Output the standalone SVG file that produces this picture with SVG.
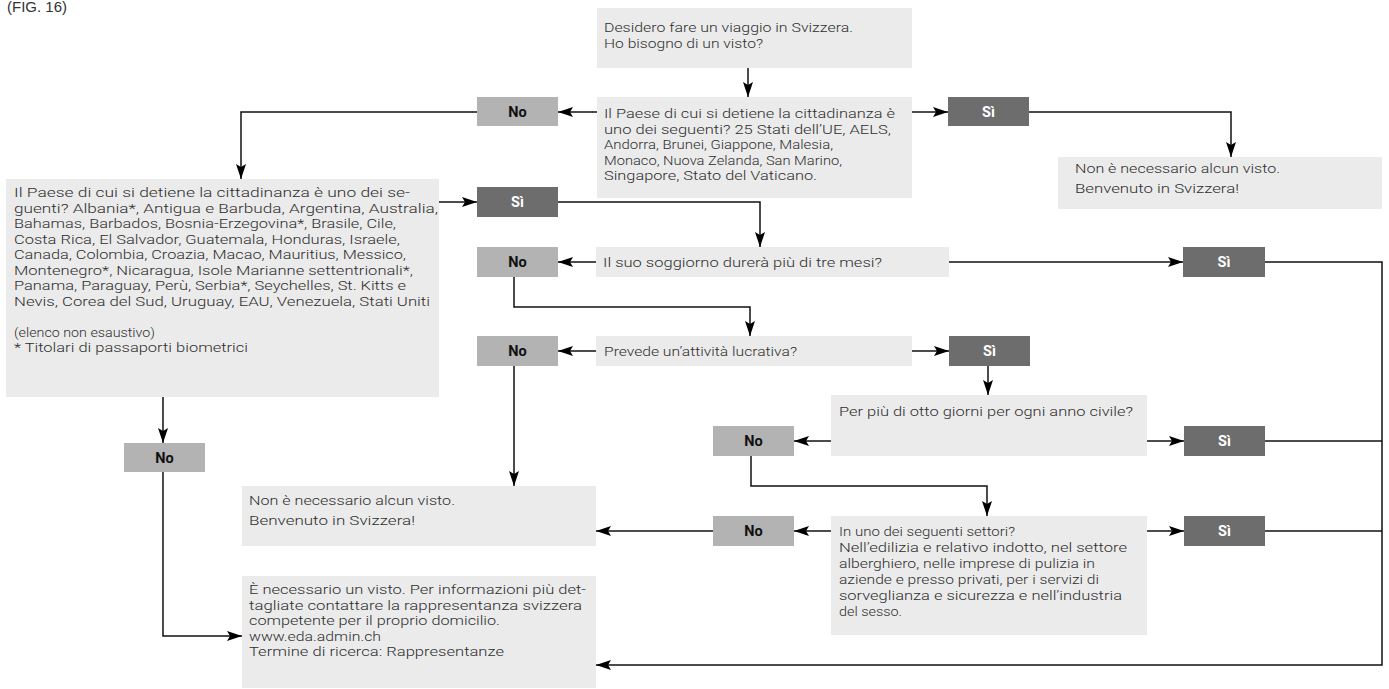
<svg xmlns="http://www.w3.org/2000/svg" width="1389" height="689" viewBox="0 0 1389 689">
<defs>
<marker id="ah" viewBox="0 0 15 10" refX="15" refY="5" markerWidth="15" markerHeight="10" markerUnits="userSpaceOnUse" orient="auto">
<path d="M0,0 L15,5 L0,10 L3,5 z" fill="#000"/>
</marker>
</defs>
<style>
.box{fill:#ebebeb}
.no{fill:#b3b3b3}
.si{fill:#6d6d6d}
.t{font-family:Roboto,"Liberation Sans",sans-serif;font-weight:300;font-size:13.5px;fill:#2e2e2e}
.ln{font-family:Roboto,"Liberation Sans",sans-serif;font-weight:700;font-size:14.5px;text-anchor:middle}
.lno{fill:#111}
.lsi{fill:#fff}
.c{fill:none;stroke:#111;stroke-width:1.5}
.ca{fill:none;stroke:#111;stroke-width:1.5;marker-end:url(#ah)}
.fig{font-family:"Liberation Sans",Arial,sans-serif;font-size:15px;fill:#333}
</style>
<text class="fig" x="7" y="12">(FIG. 16)</text>

<g id="start">
<rect class="box" x="597" y="8" width="315" height="60"/>
<text class="t" x="604" y="32" textLength="249" lengthAdjust="spacingAndGlyphs">Desidero fare un viaggio in Svizzera.</text>
<text class="t" x="604" y="48" textLength="159" lengthAdjust="spacingAndGlyphs">Ho bisogno di un visto?</text>
</g>
<g id="q1">
<rect class="box" x="597" y="97" width="315" height="101"/>
<text class="t" x="604" y="118" textLength="291" lengthAdjust="spacingAndGlyphs">Il Paese di cui si detiene la cittadinanza è</text>
<text class="t" x="604" y="133.5" textLength="287" lengthAdjust="spacingAndGlyphs">uno dei seguenti? 25 Stati dell’UE, AELS,</text>
<text class="t" x="604" y="149" textLength="229" lengthAdjust="spacingAndGlyphs">Andorra, Brunei, Giappone, Malesia,</text>
<text class="t" x="604" y="164.5" textLength="238" lengthAdjust="spacingAndGlyphs">Monaco, Nuova Zelanda, San Marino,</text>
<text class="t" x="604" y="180" textLength="213" lengthAdjust="spacingAndGlyphs">Singapore, Stato del Vaticano.</text>
</g>
<g id="no1">
<rect class="no" x="477" y="97" width="81" height="29"/>
<text class="ln lno" x="517.5" y="117">No</text>
</g>
<g id="si1">
<rect class="si" x="948" y="97" width="81" height="29"/>
<text class="ln lsi" x="988.5" y="117">Sì</text>
</g>
<g id="res1">
<rect class="box" x="1058" y="157" width="324" height="52"/>
<text class="t" x="1075" y="173" textLength="205" lengthAdjust="spacingAndGlyphs">Non è necessario alcun visto.</text>
<text class="t" x="1075" y="193" textLength="164" lengthAdjust="spacingAndGlyphs">Benvenuto in Svizzera!</text>
</g>
<g id="q2">
<rect class="box" x="6" y="179" width="433" height="218"/>
<text class="t" x="14" y="197" textLength="396" lengthAdjust="spacingAndGlyphs">Il Paese di cui si detiene la cittadinanza è uno dei se-</text>
<text class="t" x="14" y="212.5" textLength="424" lengthAdjust="spacingAndGlyphs">guenti? Albania*, Antigua e Barbuda, Argentina, Australia,</text>
<text class="t" x="14" y="228" textLength="382" lengthAdjust="spacingAndGlyphs">Bahamas, Barbados, Bosnia-Erzegovina*, Brasile, Cile,</text>
<text class="t" x="14" y="243.5" textLength="386" lengthAdjust="spacingAndGlyphs">Costa Rica, El Salvador, Guatemala, Honduras, Israele,</text>
<text class="t" x="14" y="259" textLength="392" lengthAdjust="spacingAndGlyphs">Canada, Colombia, Croazia, Macao, Mauritius, Messico,</text>
<text class="t" x="14" y="274.5" textLength="399" lengthAdjust="spacingAndGlyphs">Montenegro*, Nicaragua, Isole Marianne settentrionali*,</text>
<text class="t" x="14" y="290" textLength="392" lengthAdjust="spacingAndGlyphs">Panama, Paraguay, Perù, Serbia*, Seychelles, St. Kitts e</text>
<text class="t" x="14" y="305.5" textLength="416" lengthAdjust="spacingAndGlyphs">Nevis, Corea del Sud, Uruguay, EAU, Venezuela, Stati Uniti</text>
<text class="t" x="14" y="336.5" textLength="141" lengthAdjust="spacingAndGlyphs">(elenco non esaustivo)</text>
<text class="t" x="14" y="352" textLength="234" lengthAdjust="spacingAndGlyphs">* Titolari di passaporti biometrici</text>
</g>
<g id="si2">
<rect class="si" x="477" y="187" width="81" height="30"/>
<text class="ln lsi" x="517.5" y="207">Sì</text>
</g>
<g id="q3">
<rect class="box" x="596" y="247" width="353" height="30"/>
<text class="t" x="603" y="267" textLength="279" lengthAdjust="spacingAndGlyphs">Il suo soggiorno durerà più di tre mesi?</text>
</g>
<g id="no3">
<rect class="no" x="477" y="247" width="81" height="30"/>
<text class="ln lno" x="517.5" y="267">No</text>
</g>
<g id="si3">
<rect class="si" x="1183" y="247" width="82" height="30"/>
<text class="ln lsi" x="1224" y="267">Sì</text>
</g>
<g id="q4">
<rect class="box" x="596" y="336" width="316" height="30"/>
<text class="t" x="604" y="356" textLength="193" lengthAdjust="spacingAndGlyphs">Prevede un’attività lucrativa?</text>
</g>
<g id="no4">
<rect class="no" x="477" y="336" width="81" height="30"/>
<text class="ln lno" x="517.5" y="356">No</text>
</g>
<g id="si4">
<rect class="si" x="949" y="336" width="81" height="30"/>
<text class="ln lsi" x="989.5" y="356">Sì</text>
</g>
<g id="q5">
<rect class="box" x="831" y="395" width="316" height="61"/>
<text class="t" x="839" y="416" textLength="294" lengthAdjust="spacingAndGlyphs">Per più di otto giorni per ogni anno civile?</text>
</g>
<g id="no5">
<rect class="no" x="713" y="426" width="81" height="30"/>
<text class="ln lno" x="753.5" y="446">No</text>
</g>
<g id="si5">
<rect class="si" x="1184" y="426" width="81" height="30"/>
<text class="ln lsi" x="1224.5" y="446">Sì</text>
</g>
<g id="q6">
<rect class="box" x="831" y="516" width="316" height="119"/>
<text class="t" x="839" y="536" textLength="176" lengthAdjust="spacingAndGlyphs">In uno dei seguenti settori?</text>
<text class="t" x="839" y="552" textLength="288" lengthAdjust="spacingAndGlyphs">Nell’edilizia e relativo indotto, nel settore</text>
<text class="t" x="839" y="568" textLength="256" lengthAdjust="spacingAndGlyphs">alberghiero, nelle imprese di pulizia in</text>
<text class="t" x="839" y="584" textLength="260" lengthAdjust="spacingAndGlyphs">aziende e presso privati, per i servizi di</text>
<text class="t" x="839" y="600" textLength="283" lengthAdjust="spacingAndGlyphs">sorveglianza e sicurezza e nell’industria</text>
<text class="t" x="839" y="616" textLength="63" lengthAdjust="spacingAndGlyphs">del sesso.</text>
</g>
<g id="no6">
<rect class="no" x="713" y="516" width="81" height="30"/>
<text class="ln lno" x="753.5" y="536">No</text>
</g>
<g id="si6">
<rect class="si" x="1184" y="516" width="81" height="30"/>
<text class="ln lsi" x="1224.5" y="536">Sì</text>
</g>
<g id="res2">
<rect class="box" x="242" y="486" width="354" height="60"/>
<text class="t" x="249" y="505" textLength="206" lengthAdjust="spacingAndGlyphs">Non è necessario alcun visto.</text>
<text class="t" x="249" y="525" textLength="166" lengthAdjust="spacingAndGlyphs">Benvenuto in Svizzera!</text>
</g>
<g id="no7">
<rect class="no" x="124" y="443" width="81" height="29"/>
<text class="ln lno" x="164.5" y="463">No</text>
</g>
<g id="visa">
<rect class="box" x="242" y="576" width="354" height="112"/>
<text class="t" x="249" y="594" textLength="337" lengthAdjust="spacingAndGlyphs">È necessario un visto. Per informazioni più det-</text>
<text class="t" x="249" y="609.5" textLength="333" lengthAdjust="spacingAndGlyphs">tagliate contattare la rappresentanza svizzera</text>
<text class="t" x="249" y="625" textLength="251" lengthAdjust="spacingAndGlyphs">competente per il proprio domicilio.</text>
<text class="t" x="249" y="640.5" textLength="132" lengthAdjust="spacingAndGlyphs">www.eda.admin.ch</text>
<text class="t" x="249" y="656" textLength="255" lengthAdjust="spacingAndGlyphs">Termine di ricerca: Rappresentanze</text>
</g>

<g id="connectors">
<path class="ca" d="M748,68 V97"/>
<path class="ca" d="M597,112 H558"/>
<path class="ca" d="M912,112 H948"/>
<path class="ca" d="M1029,112 H1231 V157"/>
<path class="ca" d="M477,112 H241 V179"/>
<path class="ca" d="M439,202 H477"/>
<path class="ca" d="M558,202 H760 V247"/>
<path class="ca" d="M596,262 H558"/>
<path class="ca" d="M949,262 H1183"/>
<path class="ca" d="M514,277 V307 H750 V336"/>
<path class="ca" d="M596,351 H558"/>
<path class="ca" d="M912,351 H949"/>
<path class="ca" d="M988,366 V395"/>
<path class="ca" d="M831,441 H794"/>
<path class="ca" d="M1147,441 H1184"/>
<path class="ca" d="M751,456 V486 H987 V516"/>
<path class="ca" d="M831,531 H794"/>
<path class="ca" d="M1147,531 H1184"/>
<path class="ca" d="M713,531 H596"/>
<path class="ca" d="M514,366 V486"/>
<path class="ca" d="M163,397 V443"/>
<path class="ca" d="M163,472 V636 H242"/>
<path class="ca" d="M1265,262 H1382 V665 H596"/>
<path class="c" d="M1265,441 H1382"/>
<path class="c" d="M1265,531 H1382"/>
</g>
</svg>
